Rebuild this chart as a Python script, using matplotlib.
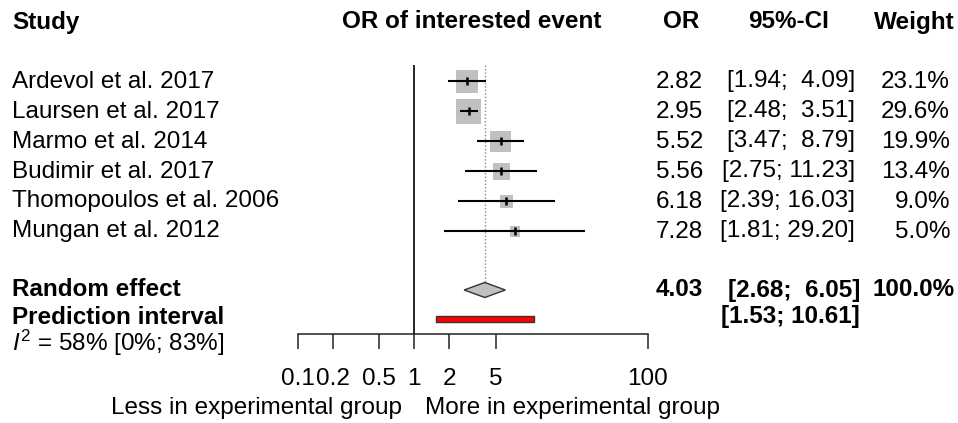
import numpy as np
import matplotlib
matplotlib.use('Agg')
import matplotlib.pyplot as plt
import matplotlib.transforms as mtransforms

plt.rcParams['font.family'] = 'Liberation Sans'
plt.rcParams['mathtext.fontset'] = 'custom'
plt.rcParams['mathtext.rm'] = 'Liberation Sans'
plt.rcParams['mathtext.it'] = 'Liberation Sans:italic'

# study level data
studies = ['Ardevol et al. 2017', 'Laursen et al. 2017', 'Marmo et al. 2014',
           'Budimir et al. 2017', 'Thomopoulos et al. 2006', 'Mungan et al. 2012']
odds = [2.82, 2.95, 5.52, 5.56, 6.18, 7.28]
ci_low = [1.94, 2.48, 3.47, 2.75, 2.39, 1.81]
ci_high = [4.09, 3.51, 8.79, 11.23, 16.03, 29.20]
weights = [23.1, 29.6, 19.9, 13.4, 9.0, 5.0]

# pooled result
re_or = 4.03
re_low, re_high = 2.68, 6.05
pi_low, pi_high = 1.53, 10.61
i2_text = '58% [0%; 83%]'

tick_vals = [0.1, 0.2, 0.5, 1, 2, 5, 100]
tick_labels = ['0.1', '0.2', '0.5', '1', '2', '5', '100']

W, H = 958, 423
fig = plt.figure(figsize=(W / 100, H / 100), dpi=100)

# y axis runs in pixels from the top so the rows can be placed like the original
ax = fig.add_axes([297.5 / W, 0, 350 / W, 1])
ax.set_xscale('log')
ax.set_xlim(0.1, 100)
ax.set_ylim(H, 0)
for s in ['left', 'right', 'top']:
    ax.spines[s].set_visible(False)
ax.set_yticks([])

# row layout
head_y = 22
study_y = 81.5 + 30 * np.arange(len(studies))
re_y = 290
pi_y = 317
i2_y = 343
axis_y = 334
label_y = 408

ax.spines['bottom'].set_position(('data', axis_y))
ax.spines['bottom'].set_linewidth(1.1)
ax.spines['bottom'].set_color('#222222')
ax.set_xticks(tick_vals)
ax.set_xticklabels(tick_labels)
ax.xaxis.set_minor_locator(matplotlib.ticker.NullLocator())
ax.tick_params(axis='x', direction='out', length=10.5, width=1.1, color='#222222',
               labelsize=17.5, pad=14)

# reference line at 1 and dotted line at pooled estimate
line_top = 65
dia_h = 7.5
ax.vlines(1, line_top, axis_y, color='black', lw=1.2)
ax.vlines(re_or, line_top, re_y - dia_h, color='#888888', lw=1, linestyles=(0, (1, 1.5)))

# squares, side proportional to sqrt(weight)
side_px = 4.6 * np.sqrt(weights)
ax.scatter(odds, study_y, marker='s', s=(side_px * 0.72) ** 2, color='#c0c0c0',
           edgecolors='none', zorder=2)
ax.hlines(study_y, ci_low, ci_high, color='black', lw=1.5, zorder=3)
ax.plot(odds, study_y, linestyle='none', marker='|', ms=6, mew=1.8, color='black', zorder=4)

# diamond for random effect
ax.fill([re_low, re_or, re_high, re_or], [re_y, re_y - dia_h, re_y, re_y + dia_h],
        facecolor='#c0c0c0', edgecolor='#333333', lw=1, zorder=3)

# prediction interval bar
ax.barh(pi_y + 2, pi_high - pi_low, left=pi_low, height=6,
        color='red', edgecolor='#333333', lw=1, zorder=3)

# text columns
tr = mtransforms.blended_transform_factory(fig.transFigure, ax.transData)
fs = 17.5


def put(xpx, y, s, ha='left', bold=False):
    fig.text(xpx / W, y, s, transform=tr, ha=ha, va='center', fontsize=fs,
             fontweight='bold' if bold else 'normal')


def ci_str(lo, hi):
    hi_s = f'{hi:.2f}'
    sep = '  ' if len(hi_s) < 5 else ' '
    return f'[{lo:.2f};{sep}{hi_s}]'


put(12, head_y, 'Study', bold=True)
put(472, head_y, 'OR of interested event', ha='center', bold=True)
put(663, head_y, 'OR', bold=True)
put(789, head_y, '95%-CI', ha='center', bold=True)
put(955, head_y, 'Weight', ha='right', bold=True)

for y, name, o, lo, hi, w in zip(study_y, studies, odds, ci_low, ci_high, weights):
    put(12, y, name)
    put(656, y, f'{o:.2f}')
    put(855, y, ci_str(lo, hi), ha='right')
    put(950, y, f'{w:.1f}%', ha='right')

put(12, re_y, 'Random effect', bold=True)
put(656, re_y, f'{re_or:.2f}', bold=True)
put(860, re_y, ci_str(re_low, re_high), ha='right', bold=True)
put(955, re_y, '100.0%', ha='right', bold=True)

put(12, pi_y, 'Prediction interval', bold=True)
put(860, pi_y, ci_str(pi_low, pi_high), ha='right', bold=True)

put(12, i2_y, r'$I^2$ = ' + i2_text)

put(402, label_y, 'Less in experimental group', ha='right')
put(425, label_y, 'More in experimental group')

fig.savefig('out.png', dpi=100)
